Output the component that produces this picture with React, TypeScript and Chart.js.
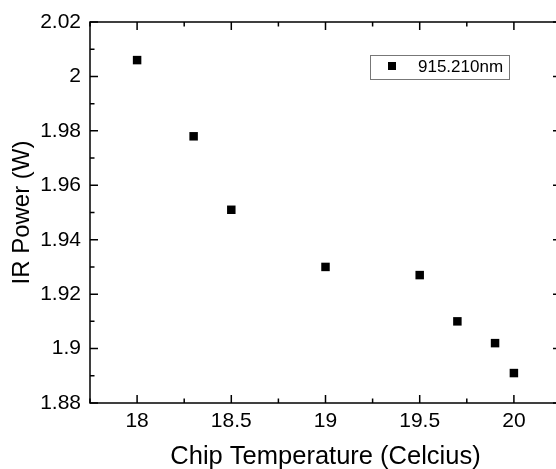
import React, { useEffect, useRef } from "react";
import { Chart, registerables } from "chart.js";

Chart.register(...registerables);

const temperatures = [18, 18.3, 18.5, 19, 19.5, 19.7, 19.9, 20];
const irPower = [2.006, 1.978, 1.951, 1.93, 1.927, 1.91, 1.902, 1.891];
const seriesLabel = "915.210nm";
const xTitle = "Chip Temperature (Celcius)";
const yTitle = "IR Power (W)";
const xMajorTicks = [18, 18.5, 19, 19.5, 20];
const xMinorTicks = [17.75, 18.25, 18.75, 19.25, 19.75, 20.25];
const yMajorTicks = [1.88, 1.9, 1.92, 1.94, 1.96, 1.98, 2, 2.02];
const yMinorTicks = [1.89, 1.91, 1.93, 1.95, 1.97, 1.99, 2.01];
const xRange = [17.75, 20.25];
const yRange = [1.88, 2.02];

const FONT = "'Liberation Sans', Arial, sans-serif";

const framePlugin = {
  id: "frameTicksLegend",
  afterDraw(chart: any) {
    const { ctx, chartArea: a, scales } = chart;
    const x = scales.x;
    const y = scales.y;
    ctx.save();
    ctx.strokeStyle = "#000";
    ctx.lineWidth = 1.5;
    ctx.strokeRect(a.left, a.top, a.right - a.left, a.bottom - a.top);
    const major = 8;
    const minor = 4.5;
    ctx.beginPath();
    const xt = (vals: number[], len: number) => {
      vals.forEach((v) => {
        const p = x.getPixelForValue(v);
        ctx.moveTo(p, a.bottom);
        ctx.lineTo(p, a.bottom - len);
        ctx.moveTo(p, a.top);
        ctx.lineTo(p, a.top + len);
      });
    };
    const yt = (vals: number[], len: number) => {
      vals.forEach((v) => {
        const p = y.getPixelForValue(v);
        ctx.moveTo(a.left, p);
        ctx.lineTo(a.left + len, p);
        ctx.moveTo(a.right, p);
        ctx.lineTo(a.right - len, p);
      });
    };
    xt(xMajorTicks, major);
    xt(xMinorTicks, minor);
    yt(yMajorTicks, major);
    yt(yMinorTicks, minor);
    ctx.stroke();

    // legend box
    const ds = chart.data.datasets[0];
    const bx = a.left + 280;
    const by = a.top + 33;
    const bw = 139;
    const bh = 24;
    ctx.fillStyle = "#fff";
    ctx.fillRect(bx, by, bw, bh);
    ctx.strokeStyle = "#777";
    ctx.lineWidth = 1;
    ctx.strokeRect(bx + 0.5, by + 0.5, bw, bh);
    ctx.fillStyle = "#000";
    ctx.fillRect(bx + 18, by + 7, 8, 8);
    ctx.font = `17px ${FONT}`;
    ctx.textBaseline = "middle";
    ctx.textAlign = "left";
    ctx.fillText(ds.label, bx + 48, by + 12.5);
    ctx.restore();
  },
};

const fmt = (v: number) => String(Number(Number(v).toFixed(2)));

export default function App() {
  const ref = useRef<HTMLCanvasElement>(null);
  useEffect(() => {
    if (!ref.current) return;
    const chart = new Chart(ref.current, {
      type: "scatter",
      data: {
        datasets: [
          {
            label: seriesLabel,
            data: temperatures.map((t, i) => ({ x: t, y: irPower[i] })),
            pointStyle: "rect",
            pointRadius: 6,
            pointHoverRadius: 6,
            backgroundColor: "#000",
            borderColor: "#000",
            borderWidth: 0,
          },
        ],
      },
      options: {
        animation: false,
        responsive: false,
        devicePixelRatio: 1,
        layout: { padding: { left: 0, top: 22, right: 39, bottom: 0 } },
        plugins: { legend: { display: false }, tooltip: { enabled: false } },
        scales: {
          x: {
            type: "linear",
            position: "bottom",
            min: xRange[0],
            max: xRange[1],
            grid: { display: false, drawTicks: false },
            border: { display: false },
            afterBuildTicks: (s: any) => {
              s.ticks = xMajorTicks.map((v) => ({ value: v }));
            },
            afterFit: (s: any) => {
              s.height = 77;
            },
            ticks: {
              color: "#000",
              font: { family: FONT, size: 21 },
              padding: 6,
              maxRotation: 0,
              autoSkip: false,
              callback: (v: any) => fmt(v),
            },
            title: {
              display: true,
              text: xTitle,
              color: "#000",
              font: { family: FONT, size: 25.5 },
              padding: { top: 0, bottom: 8 },
            },
          },
          y: {
            type: "linear",
            position: "left",
            min: yRange[0],
            max: yRange[1],
            grid: { display: false, drawTicks: false },
            border: { display: false },
            afterBuildTicks: (s: any) => {
              s.ticks = yMajorTicks.map((v) => ({ value: v }));
            },
            afterFit: (s: any) => {
              s.width = 90;
            },
            ticks: {
              color: "#000",
              font: { family: FONT, size: 21 },
              padding: 9,
              autoSkip: false,
              callback: (v: any) => fmt(v),
            },
            title: {
              display: true,
              text: yTitle,
              color: "#000",
              font: { family: FONT, size: 24 },
              padding: { top: 8, bottom: 0 },
            },
          },
        },
      },
      plugins: [framePlugin],
    } as any);
    return () => chart.destroy();
  }, []);
  return (
    <div
      style={{
        position: "absolute",
        left: 0,
        top: 0,
        width: 556,
        height: 469,
        overflow: "hidden",
        background: "#fff",
      }}
    >
      <canvas ref={ref} width={600} height={480} style={{ display: "block", width: 600, height: 480 }} />
    </div>
  );
}
